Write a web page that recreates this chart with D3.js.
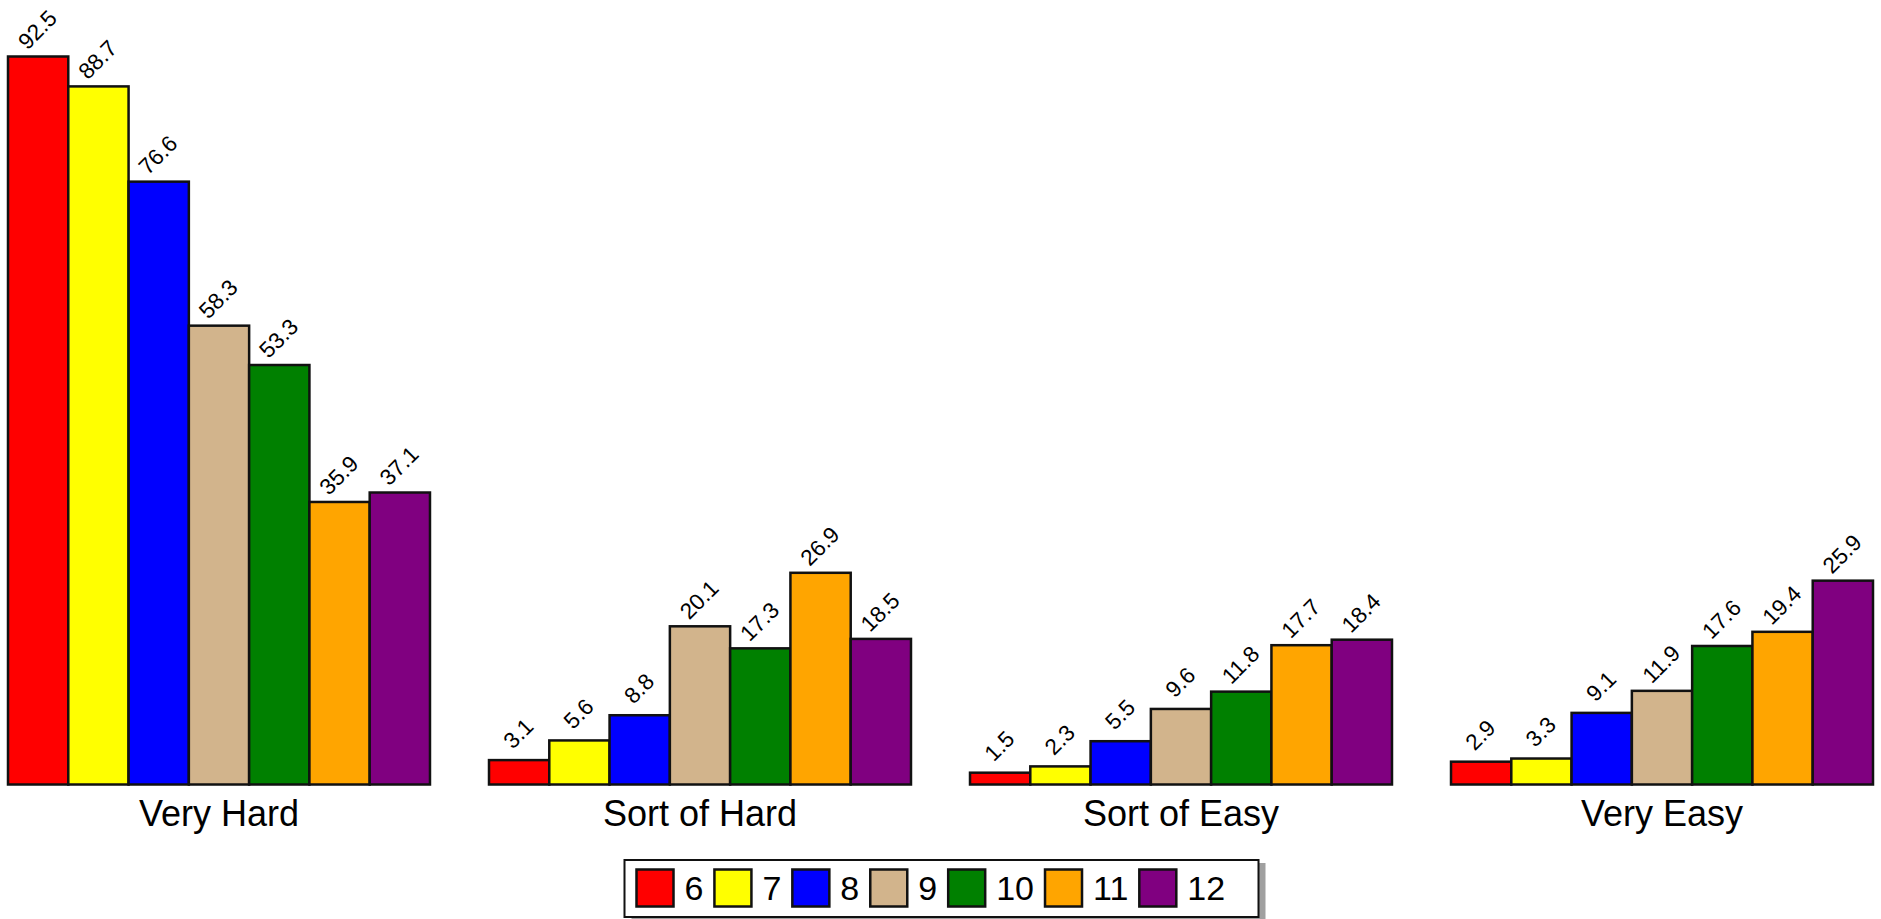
<!DOCTYPE html>
<html>
<head>
<meta charset="utf-8">
<script src="https://cdn.jsdelivr.net/npm/d3@7"></script>
<style>
  html, body { margin: 0; padding: 0; background: #fff; }
  svg { display: block; font-family: Arial, "Liberation Sans", sans-serif; }
</style>
</head>
<body>
<svg id="chart" width="1881" height="919"></svg>
<script>
const categories = ["Very Hard", "Sort of Hard", "Sort of Easy", "Very Easy"];
const seriesNames = ["6", "7", "8", "9", "10", "11", "12"];
const seriesColors = ["#ff0000", "#ffff00", "#0000ff", "#d2b48c", "#008000", "#ffa500", "#800080"];
const values6  = [92.5, 3.1, 1.5, 2.9];
const values7  = [88.7, 5.6, 2.3, 3.3];
const values8  = [76.6, 8.8, 5.5, 9.1];
const values9  = [58.3, 20.1, 9.6, 11.9];
const values10 = [53.3, 17.3, 11.8, 17.6];
const values11 = [35.9, 26.9, 17.7, 19.4];
const values12 = [37.1, 18.5, 18.4, 25.9];
const seriesValues = [values6, values7, values8, values9, values10, values11, values12];

const svg = d3.select("#chart");

const x0 = d3.scaleBand().domain(categories).range([8, 1873]).paddingInner(0.1227).paddingOuter(0);
const x1 = d3.scaleBand().domain(seriesNames).range([0, x0.bandwidth()]).padding(0);
const y = d3.scaleLinear().domain([0, 92.5]).range([784.5, 56.5]);

const data = [];
categories.forEach((c, ci) => {
  seriesNames.forEach((s, si) => {
    data.push({cat: c, ser: s, color: seriesColors[si], v: seriesValues[si][ci]});
  });
});

const g = svg.append("g");
g.selectAll("rect.bar").data(data).join("rect")
  .attr("class", "bar")
  .attr("x", d => x0(d.cat) + x1(d.ser))
  .attr("y", d => y(d.v))
  .attr("width", x1.bandwidth())
  .attr("height", d => y(0) - y(d.v))
  .attr("fill", d => d.color)
  .attr("stroke", "#111")
  .attr("stroke-width", 2.5);

g.selectAll("text.val").data(data).join("text")
  .attr("class", "val")
  .attr("transform", d => {
    const cx = x0(d.cat) + x1(d.ser) + x1.bandwidth() / 2 - 1;
    const cy = y(d.v) - 27;
    return `translate(${cx},${cy}) rotate(-45)`;
  })
  .attr("text-anchor", "middle")
  .attr("dy", "0.36em")
  .attr("font-size", 22.5)
  .attr("fill", "#000")
  .text(d => d3.format(".1f")(d.v));

// category axis labels
const xAxis = d3.axisBottom(x0).tickSize(0).tickPadding(0);
const ax = svg.append("g").attr("transform", `translate(0,${y(0)})`).call(xAxis);
ax.select(".domain").remove();
ax.selectAll("text")
  .attr("font-size", 36)
  .attr("font-family", "Arial, 'Liberation Sans', sans-serif")
  .attr("fill", "#000")
  .attr("dy", null)
  .attr("y", 826 - y(0));

// legend
const legend = svg.append("g");
const swatch = 37, gapText = 11, gapItem = 11, padL = 12;
const boxW = 634, boxH = 57;
legend.append("rect")
  .attr("x", 7).attr("y", 3).attr("width", boxW).attr("height", boxH)
  .attr("fill", "#a0a0a0");
legend.append("rect")
  .attr("x", 0).attr("y", 0).attr("width", boxW).attr("height", boxH)
  .attr("fill", "#fff").attr("stroke", "#111").attr("stroke-width", 2);
const items = legend.selectAll("g.item").data(seriesNames.map((s, i) => ({s, c: seriesColors[i]}))).join("g").attr("class", "item");
items.append("rect")
  .attr("width", swatch).attr("height", swatch)
  .attr("fill", d => d.c).attr("stroke", "#111").attr("stroke-width", 2.5);
items.append("text")
  .attr("x", swatch + gapText)
  .attr("y", swatch / 2)
  .attr("dy", "0.36em")
  .attr("font-size", 34)
  .attr("fill", "#000")
  .text(d => d.s);
let cx = padL;
const itemY = (boxH - swatch) / 2 - 0.5;
items.each(function() {
  const t = d3.select(this).select("text").node().getComputedTextLength();
  d3.select(this).attr("transform", `translate(${cx},${itemY})`);
  cx += swatch + gapText + t + gapItem;
});
const boxX = (x0.range()[0] + x0.range()[1]) / 2 - boxW / 2 + 1;
const boxY = 860;
legend.attr("transform", `translate(${boxX},${boxY})`);
</script>
</body>
</html>
